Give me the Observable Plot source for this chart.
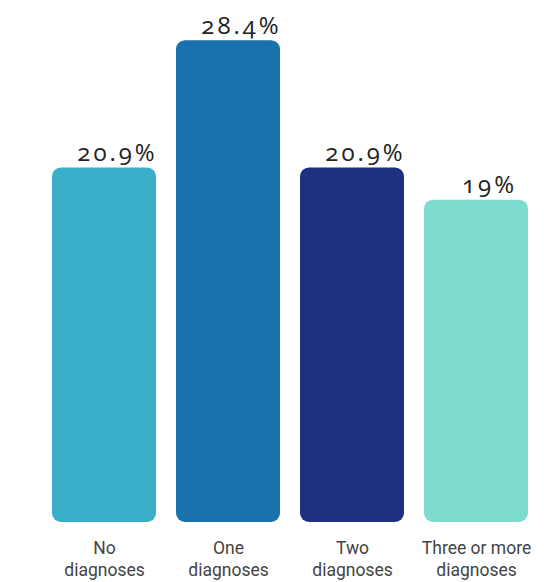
<!DOCTYPE html>
<html>
<head>
<meta charset="utf-8">
<script src="https://cdn.jsdelivr.net/npm/d3@7"></script>
<script src="https://cdn.jsdelivr.net/npm/@observablehq/plot@0.6"></script>
<style>
  html, body { margin: 0; padding: 0; background: #fff; }
  #chart svg { display: block; }
</style>
</head>
<body>
<div id="chart"></div>
<script>
const categories = ["No\ndiagnoses", "One\ndiagnoses", "Two\ndiagnoses", "Three or more\ndiagnoses"];
const values = [20.9, 28.4, 20.9, 19];
const colors = ["#3aafca", "#1a72ac", "#1e2f7f", "#7edbd0"];

const data = categories.map((c, i) => ({category: c, value: values[i], color: colors[i]}));

const chart = Plot.plot({
  width: 544,
  height: 582,
  marginLeft: 40,
  marginRight: 3,
  marginTop: 13,
  marginBottom: 60,
  style: {background: "#fff", fontFamily: "Roboto, sans-serif"},
  x: {domain: categories, paddingInner: 0.16, paddingOuter: 0.1, label: null},
  y: {domain: [0, 30], axis: null},
  marks: [
    Plot.barY(data, {x: "category", y: "value", fill: "color", rx: 9}),
    Plot.text(data, {
      x: "category", y: "value", text: d => d.value + "%",
      lineAnchor: "bottom", dy: -7, dx: 13,
      fontSize: 24, fill: "#222", fontFamily: "'Open Sans', sans-serif"
    }),
    Plot.axisX({
      tickSize: 0, tickPadding: 16, fontSize: 17.5, lineHeight: 1.26,
      color: "#444", label: null, fontFamily: "Roboto, sans-serif"
    })
  ]
});
d3.select(chart).selectAll("text").filter(function() { return /%$/.test(this.textContent); })
  .style("font-variant-numeric", "oldstyle-nums").style("letter-spacing", "3px");
document.getElementById("chart").appendChild(chart);
</script>
</body>
</html>
